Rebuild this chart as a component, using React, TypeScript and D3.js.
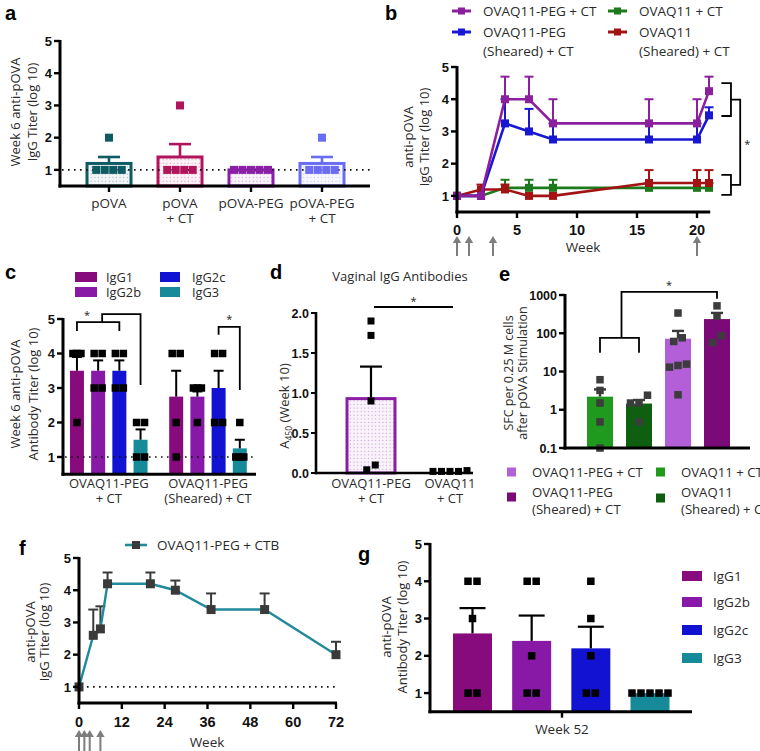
import React from 'react';
import * as d3 from 'd3';

const SANS = "'Open Sans', 'Noto Sans', sans-serif";
const TICKF = "'Liberation Sans', Arial, sans-serif";
const TXT = '#2a2a2a';

// ---------------- Panel a ----------------
const aCategories = ['pOVA', 'pOVA|+ CT', 'pOVA-PEG', 'pOVA-PEG|+ CT'];
const aMeans = [1.2, 1.4, 1.0, 1.2];
const aErrTop = [1.4, 1.8, 1.0, 1.4];
const aPoints = [[2, 1, 1, 1, 1], [3, 1, 1, 1, 1], [1, 1, 1, 1, 1], [2, 1, 1, 1, 1]];
const aColors = ['#0f5b63', '#b2145c', '#8a1fa6', '#6a6cf2'];
const titerTicks = [1, 2, 3, 4, 5];

// ---------------- Panel b ----------------
const bWeeks = [0, 2, 4, 6, 8, 16, 20, 21];
const bWeekTicks = [0, 5, 10, 15, 20];
const bArrowWeeks = [0, 1, 3, 20];
const bPegCT = [1, 1, 4, 4, 3.25, 3.25, 3.25, 4.25];
const bPegCTErr = [1, 1, 4.7, 4.7, 4.0, 4.0, 4.0, 4.7];
const bPegShearCT = [1, 1, 3.25, 3.0, 2.75, 2.75, 2.75, 3.5];
const bPegShearCTErr = [1, 1, 4.0, 3.7, 3.25, 3.25, 3.25, 3.75];
const bCT = [1, 1, 1.25, 1.25, 1.25, 1.25, 1.25, 1.25];
const bCTErr = [1, 1, 1.5, 1.5, 1.5, 1.4, 1.4, 1.4];
const bShearCT = [1, 1.2, 1.2, 1.0, 1.0, 1.4, 1.4, 1.4];
const bShearCTErr = [1, 1.35, 1.35, 1.0, 1.0, 1.8, 1.8, 1.8];
const bNames = ['OVAQ11-PEG + CT', 'OVAQ11-PEG|(Sheared) + CT', 'OVAQ11 + CT', 'OVAQ11|(Sheared) + CT'];
const bColors = ['#8c1f9e', '#1818d4', '#1c7a1c', '#a31313'];

// ---------------- Panel c ----------------
const cGroups = ['OVAQ11-PEG|+ CT', 'OVAQ11-PEG|(Sheared) + CT'];
const igClasses = ['IgG1', 'IgG2b', 'IgG2c', 'IgG3'];
const igColors = ['#870b7c', '#8818a6', '#1212d2', '#178a9a'];
const cMeansPeg = [3.5, 3.5, 3.5, 1.5];
const cErrPeg = [3.9, 3.8, 3.8, 1.8];
const cPtsPeg = [[4, 4, 4, 2], [4, 4, 3, 3], [4, 4, 3, 3], [2, 2, 1, 1]];
const cMeansShear = [2.75, 2.75, 3.0, 1.25];
const cErrShear = [3.5, 2.9, 3.5, 1.5];
const cPtsShear = [[4, 4, 2, 1], [3, 3, 3, 2], [4, 4, 2, 2], [2, 1, 1, 1]];

// ---------------- Panel d ----------------
const dCategories = ['OVAQ11-PEG|+ CT', 'OVAQ11|+ CT'];
const dMeans = [0.93, 0.02];
const dErrTop = [1.33, 0.02];
const dPoints = [[1.9, 1.72, 0.9, 0.1, 0.04], [0.03, 0.02, 0.02, 0.02, 0.02]];
const dTicks = [0, 0.5, 1.0, 1.5, 2.0];

// ---------------- Panel e ----------------
const eGroups = ['OVAQ11 + CT', 'OVAQ11 (Sheared) + CT', 'OVAQ11-PEG + CT', 'OVAQ11-PEG (Sheared) + CT'];
const eColors = ['#1f9a1f', '#0f5f10', '#b25fd8', '#7a0a78'];
const eMeans = [2.2, 1.45, 72, 235];
const eErrTop = [3.4, 1.8, 115, 340];
const ePoints = [[6.1, 3.2, 1.5, 0.48, 0.1], [2.4, 1.5, 1.5, 0.48], [338, 76, 61, 15.6, 14.4, 13, 2.46], [520, 280, 86, 57]];
const eTicks = [0.1, 1, 10, 100, 1000];

// ---------------- Panel f ----------------
const fWeeks = [0, 4, 6, 8, 20, 27, 37, 52, 72];
const fMeans = [1, 2.6, 2.8, 4.2, 4.2, 4.0, 3.4, 3.4, 2.0];
const fErrTop = [1, 3.4, 3.5, 4.55, 4.55, 4.3, 3.9, 3.9, 2.4];
const fWeekTicks = [0, 12, 24, 36, 48, 60, 72];
const fArrowWeeks = [0, 1.5, 3, 6];

// ---------------- Panel g ----------------
const gMeans = [2.6, 2.4, 2.2, 1.0];
const gErrTop = [3.28, 3.08, 2.78, 1.0];
const gPoints = [[4, 4, 3, 1, 1], [4, 4, 2, 1, 1], [4, 3, 2, 1, 1], [1, 1, 1, 1, 1]];

// ---------- helpers ----------
type Sc = (v: number) => number;

function spread(vals: number[], y: Sc, spacing: number, maxW: number, thresh = 9) {
  const items = vals.map(v => ({ v, y: y(v) })).sort((a, b) => a.y - b.y);
  const clusters: { v: number; y: number }[][] = [];
  for (const it of items) {
    const last = clusters[clusters.length - 1];
    if (last && Math.abs(it.y - last[last.length - 1].y) < thresh) last.push(it);
    else clusters.push([it]);
  }
  const out: { v: number; y: number; dx: number }[] = [];
  for (const c of clusters) {
    c.sort((a, b) => b.y - a.y);
    const n = c.length;
    const s = n > 1 ? Math.min(spacing, maxW / (n - 1)) : 0;
    c.forEach((it, i) => out.push({ v: it.v, y: it.y, dx: (i - (n - 1) / 2) * s }));
  }
  return out;
}

function Sq({ x, y, s, fill }: { x: number; y: number; s: number; fill: string }) {
  return <rect x={x - s / 2} y={y - s / 2} width={s} height={s} fill={fill} />;
}

function ErrBar({ x, y0, y1, w, color, sw = 2.2 }: any) {
  if (Math.abs(y0 - y1) < 0.5) return null;
  return (
    <g stroke={color} strokeWidth={sw}>
      <line x1={x} x2={x} y1={y0} y2={y1} />
      <line x1={x - w / 2} x2={x + w / 2} y1={y1} y2={y1} />
    </g>
  );
}

function YAxis({ scale, x, ticks, fmt, fs = 13, len = 6, sw = 3 }: any) {
  const [r0, r1] = scale.range();
  return (
    <g>
      <line x1={x} x2={x} y1={r1 - 1} y2={r0 + sw / 2} stroke="#000" strokeWidth={sw} />
      {ticks.map((t: number) => (
        <g key={t}>
          <line x1={x - len} x2={x} y1={scale(t)} y2={scale(t)} stroke="#000" strokeWidth={sw - 0.6} />
          <text x={x - len - 2} y={scale(t)} dy="0.36em" textAnchor="end" fontFamily={TICKF} fontWeight="bold" fontSize={fs} fill="#111">
            {fmt ? fmt(t) : t}
          </text>
        </g>
      ))}
    </g>
  );
}

function HLine({ x1, x2, y, sw = 3 }: any) {
  return <line x1={x1} x2={x2} y1={y} y2={y} stroke="#000" strokeWidth={sw} />;
}

function Dotted({ x1, x2, y }: any) {
  return <line x1={x1} x2={x2} y1={y} y2={y} stroke="#111" strokeWidth={1.6} strokeDasharray="1.6 4.4" />;
}

function VTitle({ x, y, lines, fs = 13, gap = 17 }: any) {
  return (
    <g>
      {lines.map((l: any, i: number) => (
        <text key={i} transform={`translate(${x + i * gap},${y}) rotate(-90)`} textAnchor="middle" fontFamily={SANS} fontSize={fs} fill={TXT}>
          {l}
        </text>
      ))}
    </g>
  );
}

function CatLabel({ x, y, label, fs = 13, gap = 15 }: any) {
  const parts = label.split('|');
  return (
    <text textAnchor="middle" fontFamily={SANS} fontSize={fs} fill={TXT}>
      {parts.map((p: string, i: number) => (
        <tspan key={i} x={x} y={y + i * gap}>{p}</tspan>
      ))}
    </text>
  );
}

function PLabel({ x, y, t }: any) {
  return <text x={x} y={y} fontFamily={TICKF} fontWeight="bold" fontSize={20} fill="#000">{t}</text>;
}

function Arrow({ x, yb, yt }: any) {
  return (
    <g fill="#7d7d7d" stroke="#7d7d7d">
      <line x1={x} x2={x} y1={yb} y2={yt + 6} strokeWidth={2} />
      <path d={`M${x - 4.2},${yt + 7} L${x},${yt} L${x + 4.2},${yt + 7}Z`} stroke="none" />
    </g>
  );
}

// ---------- Panel a ----------
function PanelA() {
  const y = d3.scaleLinear().domain([0.5, 5]).range([186, 41]);
  const x = d3.scalePoint<string>().domain(aCategories).range([109, 322]);
  const bw = 44;
  return (
    <g>
      <PLabel x={5} y={20} t="a" />
      {aCategories.map((c, i) => {
        const cx = x(c)!;
        const top = y(aMeans[i]);
        return (
          <g key={c}>
            <rect x={cx - bw / 2} y={top} width={bw} height={y(0.5) - top} fill={`url(#dots${i})`} stroke={aColors[i]} strokeWidth={3} />
            <ErrBar x={cx} y0={top} y1={y(aErrTop[i])} w={22} color={aColors[i]} sw={2.6} />
          </g>
        );
      })}
      <Dotted x1={62} x2={370} y={y(1)} />
      {aCategories.map((c, i) =>
        spread(aPoints[i], y, 8.5, 34).map((p, j) => <Sq key={c + j} x={x(c)! + p.dx} y={p.y} s={8} fill={aColors[i]} />)
      )}
      <YAxis scale={y} x={60} ticks={titerTicks} />
      <HLine x1={58.5} x2={370} y={y(0.5)} />
      {aCategories.map(c => (
        <line key={c} x1={x(c)} x2={x(c)} y1={y(0.5)} y2={y(0.5) + 6} stroke="#000" strokeWidth={2.4} />
      ))}
      {aCategories.map(c => <CatLabel key={c} x={x(c)} y={208} label={c} fs={13.5} />)}
      <VTitle x={20} y={112} lines={['Week 6 anti-pOVA', 'IgG Titer (log 10)']} />
    </g>
  );
}

// ---------- Panel b ----------
function PanelB() {
  const y = d3.scaleLinear().domain([0.5, 5]).range([212, 67]);
  const x = d3.scaleLinear().domain([0, 21]).range([457, 709]);
  const series = [
    { m: bCT, e: bCTErr, c: bColors[2] },
    { m: bShearCT, e: bShearCTErr, c: bColors[3] },
    { m: bPegShearCT, e: bPegShearCTErr, c: bColors[1] },
    { m: bPegCT, e: bPegCTErr, c: bColors[0] },
  ];
  const line = d3.line<number>().x((_, i) => x(bWeeks[i])).y(d => y(d));
  const legendPos = [
    { lx: 452, ty: 11 },
    { lx: 452, ty: 32 },
    { lx: 608, ty: 11 },
    { lx: 608, ty: 32 },
  ];
  const bx = 22.83;
  const tick = 0.8;
  const outer = 23.6;
  const topB = [4.5, 3.48];
  const botB = [1.65, 1.03];
  const mid = (a: number[]) => (y(a[0]) + y(a[1])) / 2;
  return (
    <g>
      <PLabel x={385} y={20} t="b" />
      {bNames.map((n, i) => {
        const p = legendPos[i];
        const parts = n.split('|');
        return (
          <g key={n}>
            <line x1={p.lx} x2={p.lx + 19} y1={p.ty} y2={p.ty} stroke={bColors[i]} strokeWidth={3} />
            <Sq x={p.lx + 9.5} y={p.ty} s={7} fill={bColors[i]} />
            <text fontFamily={SANS} fontSize={13.5} fill={TXT}>
              {parts.map((t, k) => (
                <tspan key={k} x={p.lx + 31} y={p.ty + 5 + k * 19}>{t}</tspan>
              ))}
            </text>
          </g>
        );
      })}
      {series.map((s, si) => (
        <g key={si}>
          {s.m.map((v, i) => (
            <ErrBar key={i} x={x(bWeeks[i])} y0={y(v)} y1={y(s.e[i])} w={9} color={s.c} sw={2} />
          ))}
          <path d={line(s.m)!} fill="none" stroke={s.c} strokeWidth={2.6} />
          {s.m.map((v, i) => <Sq key={i} x={x(bWeeks[i])} y={y(v)} s={8} fill={s.c} />)}
        </g>
      ))}
      <YAxis scale={y} x={457} ticks={titerTicks} />
      <HLine x1={455.5} x2={x(21.1)} y={y(0.5)} />
      {bWeekTicks.map(w => (
        <g key={w}>
          <line x1={x(w)} x2={x(w)} y1={y(0.5)} y2={y(0.5) + 6} stroke="#000" strokeWidth={2.4} />
          <text x={x(w)} y={235} textAnchor="middle" fontFamily={TICKF} fontWeight="bold" fontSize={14.5} fill="#111">{w}</text>
        </g>
      ))}
      <text x={583} y={252} textAnchor="middle" fontFamily={SANS} fontSize={13.5} fill={TXT}>Week</text>
      {bArrowWeeks.map(w => <Arrow key={w} x={x(w)} yb={256} yt={236} />)}
      <VTitle x={413} y={137} lines={['anti-pOVA', 'IgG Titer (log 10)']} gap={16} />
      <g stroke="#000" strokeWidth={1.8} fill="none">
        <path d={`M${x(bx - tick)},${y(topB[0])} H${x(bx)} V${y(topB[1])} H${x(bx - tick)}`} />
        <path d={`M${x(bx - tick)},${y(botB[0])} H${x(bx)} V${y(botB[1])} H${x(bx - tick)}`} />
        <path d={`M${x(bx)},${mid(topB)} H${x(outer)} V${mid(botB)} H${x(bx)}`} />
      </g>
      <text x={x(outer) + 7} y={(mid(topB) + mid(botB)) / 2 + 6} textAnchor="middle" fontFamily={SANS} fontSize={11} fill="#222">*</text>
    </g>
  );
}

// ---------- Panel c ----------
function PanelC() {
  const y = d3.scaleLinear().domain([0.5, 5]).range([474.25, 319]);
  const x0 = d3.scalePoint<string>().domain(cGroups).range([108.75, 208]);
  const x1 = d3.scalePoint<string>().domain(igClasses).range([-31.8, 31.8]);
  const bw = 14;
  const data = [
    { m: cMeansPeg, e: cErrPeg, p: cPtsPeg },
    { m: cMeansShear, e: cErrShear, p: cPtsShear },
  ];
  const cx = (g: number, k: number) => x0(cGroups[g])! + x1(igClasses[k])!;
  return (
    <g>
      <PLabel x={5} y={279} t="c" />
      {igClasses.map((n, i) => {
        const col = i < 2 ? 0 : 1;
        const row = i % 2;
        const sx = col === 0 ? 75 : 160;
        const sy = 272 + row * 15;
        return (
          <g key={n}>
            <rect x={sx} y={sy} width={col === 0 ? 22 : 20} height={10} fill={igColors[i]} />
            <text x={col === 0 ? 106 : 192} y={sy + 9.5} fontFamily={SANS} fontSize={12.8} fill={TXT}>{n}</text>
          </g>
        );
      })}
      {data.map((d, g) =>
        igClasses.map((k, i) => {
          const c = cx(g, i);
          const top = y(d.m[i]);
          return (
            <g key={g + k}>
              <rect x={c - bw / 2} y={top} width={bw} height={y(0.5) - top} fill={igColors[i]} />
              <ErrBar x={c} y0={top} y1={y(d.e[i])} w={10} color="#000" sw={2} />
            </g>
          );
        })
      )}
      <Dotted x1={65} x2={256} y={y(1)} />
      {data.map((d, g) =>
        igClasses.map((k, i) =>
          spread(d.p[i], y, 8, 8).map((p, j) => <Sq key={g + k + j} x={cx(g, i) + p.dx} y={p.y} s={7.5} fill="#000" />)
        )
      )}
      <YAxis scale={y} x={63} ticks={titerTicks} />
      <HLine x1={61.5} x2={256} y={y(0.5)} />
      {cGroups.map(gname => <CatLabel key={gname} x={x0(gname)} y={488} label={gname} />)}
      <VTitle x={20} y={394} lines={['Week 6 anti-pOVA', 'Antibody Titer (log 10)']} gap={18} />
      <g stroke="#000" strokeWidth={1.8} fill="none">
        <path d={`M${cx(0, 0)},${y(4.65)} V${y(4.91)} H${cx(0, 2)} V${y(4.65)}`} />
        <path d={`M${(cx(0, 0) + cx(0, 2)) / 2 + 4},${y(4.91)} V${y(5.14)} H${cx(0, 3)} V${y(3.09)}`} />
        <path d={`M${cx(1, 2)},${y(4.54)} V${y(4.77)} H${cx(1, 3)} V${y(2.94)}`} />
      </g>
      <text x={87} y={319} textAnchor="middle" fontFamily={SANS} fontSize={11} fill="#222">*</text>
      <text x={(cx(1, 2) + cx(1, 3)) / 2} y={323} textAnchor="middle" fontFamily={SANS} fontSize={11} fill="#222">*</text>
    </g>
  );
}

// ---------- Panel d ----------
function PanelD() {
  const y = d3.scaleLinear().domain([0, 2]).range([473, 313]);
  const x = d3.scalePoint<string>().domain(dCategories).range([371, 450]);
  const bw = 48;
  const fmt = d3.format('.1f');
  return (
    <g>
      <PLabel x={270} y={279} t="d" />
      <text x={400} y={281} textAnchor="middle" fontFamily={SANS} fontSize={13} fill={TXT}>Vaginal IgG Antibodies</text>
      {dCategories.map((c, i) => {
        const cx = x(c)!;
        const top = y(dMeans[i]);
        return (
          <g key={c}>
            {i === 0 && <rect x={cx - bw / 2} y={top} width={bw} height={y(0) - top} fill="url(#dots2)" stroke="#8a1fa6" strokeWidth={3} />}
            <ErrBar x={cx} y0={top} y1={y(dErrTop[i])} w={22} color="#000" sw={2.2} />
          </g>
        );
      })}
      {dCategories.map((c, i) =>
        spread(dPoints[i], y, 8.5, 34, 8).map((p, j) => <Sq key={c + j} x={x(c)! + p.dx} y={p.y} s={7} fill="#000" />)
      )}
      <YAxis scale={y} x={316} ticks={dTicks} fmt={fmt} sw={2.6} fs={12.5} len={5} />
      <HLine x1={315} x2={473} y={y(0)} sw={2.6} />
      {dCategories.map(c => <CatLabel key={c} x={x(c)} y={488} label={c} />)}
      <text transform="translate(289,406) rotate(-90)" textAnchor="middle" fontFamily={SANS} fontSize={13} fill={TXT}>
        A<tspan fontSize={8.5} dy={3}>450</tspan><tspan dy={-3}> (Week 10)</tspan>
      </text>
      <line x1={x(dCategories[0])! + 3} x2={x(dCategories[1])! + 3} y1={307} y2={307} stroke="#000" strokeWidth={1.8} />
      <text x={(x(dCategories[0])! + x(dCategories[1])!) / 2 + 3} y={305} textAnchor="middle" fontFamily={SANS} fontSize={11} fill="#222">*</text>
    </g>
  );
}

// ---------- Panel e ----------
function PanelE() {
  const y = d3.scaleLog().domain([0.1, 1000]).range([448, 295]);
  const x = d3.scalePoint<string>().domain(eGroups).range([600, 717]);
  const bw = 26;
  const fmt = (v: number) => (v < 1 ? '0.1' : String(v));
  const cx = (i: number) => x(eGroups[i])!;
  const legend = [
    { i: 2, sx: 507, sy: 472, lines: ['OVAQ11-PEG + CT'], ty: 477 },
    { i: 3, sx: 507, sy: 497, lines: ['OVAQ11-PEG', '(Sheared) + CT'], ty: 497 },
    { i: 0, sx: 656, sy: 472, lines: ['OVAQ11 + CT'], ty: 477 },
    { i: 1, sx: 656, sy: 498, lines: ['OVAQ11', '(Sheared) + CT'], ty: 497 },
  ];
  return (
    <g>
      <PLabel x={499} y={281} t="e" />
      {eGroups.map((g, i) => {
        const top = y(eMeans[i]);
        return (
          <g key={g}>
            <rect x={cx(i) - bw / 2} y={top} width={bw} height={y(0.1) - top} fill={eColors[i]} />
            <ErrBar x={cx(i)} y0={top} y1={y(eErrTop[i])} w={12} color="#3a3a3a" sw={2.4} />
          </g>
        );
      })}
      {eGroups.map((g, i) =>
        spread(ePoints[i], y, 8.5, 17, 9).map((p, j) => <Sq key={g + j} x={cx(i) + p.dx} y={p.y} s={7.5} fill="#3c3c3c" />)
      )}
      <YAxis scale={y} x={565} ticks={eTicks} fmt={fmt} fs={12.5} />
      <HLine x1={563.5} x2={750} y={y(0.1)} />
      <VTitle x={513} y={373} lines={['SFC per 0.25 M cells', 'after pOVA Stimulation']} fs={12.5} gap={14} />
      <g stroke="#000" strokeWidth={1.8} fill="none">
        <path d={`M${cx(0)},${y(31)} V${y(76)} H${cx(1)} V${y(31)}`} />
        <path d={`M${(cx(0) + cx(1)) / 2 + 2},${y(76)} V${y(1200)} H${cx(3)} V${y(800)}`} />
      </g>
      <text x={669} y={289} textAnchor="middle" fontFamily={SANS} fontSize={11} fill="#222">*</text>
      {legend.map(l => (
        <g key={l.i}>
          <rect x={l.sx} y={l.sy - 4.5} width={9} height={9} fill={eColors[l.i]} />
          <text fontFamily={SANS} fontSize={13.2} fill={TXT}>
            {l.lines.map((t, k) => (
              <tspan key={k} x={l.sx + 25} y={l.ty + k * 17}>{t}</tspan>
            ))}
          </text>
        </g>
      ))}
    </g>
  );
}

// ---------- Panel f ----------
function PanelF() {
  const y = d3.scaleLinear().domain([0.5, 5]).range([703, 558]);
  const x = d3.scaleLinear().domain([0, 72]).range([79, 336]);
  const line = d3.line<number>().x((_, i) => x(fWeeks[i])).y(d => y(d));
  const teal = '#20899a';
  const mk = '#3a3a3a';
  return (
    <g>
      <PLabel x={19} y={555} t="f" />
      <line x1={125} x2={147} y1={545} y2={545} stroke={teal} strokeWidth={2.6} />
      <Sq x={136} y={545} s={8} fill={mk} />
      <text x={157} y={550} fontFamily={SANS} fontSize={13.5} fill={TXT}>OVAQ11-PEG + CTB</text>
      <Dotted x1={81} x2={336} y={y(1)} />
      {fMeans.map((v, i) => <ErrBar key={i} x={x(fWeeks[i])} y0={y(v)} y1={y(fErrTop[i])} w={10} color={mk} sw={2} />)}
      <path d={line(fMeans)!} fill="none" stroke={teal} strokeWidth={2.4} />
      {fMeans.map((v, i) => <Sq key={i} x={x(fWeeks[i])} y={y(v)} s={9} fill={mk} />)}
      <YAxis scale={y} x={79} ticks={titerTicks} />
      <HLine x1={77.5} x2={337} y={y(0.5)} />
      {fWeekTicks.map(w => (
        <g key={w}>
          <line x1={x(w)} x2={x(w)} y1={y(0.5)} y2={y(0.5) + 6} stroke="#000" strokeWidth={2.4} />
          <text x={x(w)} y={727} textAnchor="middle" fontFamily={TICKF} fontWeight="bold" fontSize={14.5} fill="#111">{w}</text>
        </g>
      ))}
      <text x={207} y={747} textAnchor="middle" fontFamily={SANS} fontSize={13.5} fill={TXT}>Week</text>
      {fArrowWeeks.map(w => <Arrow key={w} x={x(w)} yb={752} yt={730} />)}
      <VTitle x={35} y={632} lines={['anti-pOVA', 'IgG Titer (log 10)']} gap={14} />
    </g>
  );
}

// ---------- Panel g ----------
function PanelG() {
  const y = d3.scaleLinear().domain([0.5, 5]).range([711.7, 544]);
  const x = d3.scalePoint<string>().domain(igClasses).range([472.5, 650]);
  const bw = 39;
  return (
    <g>
      <PLabel x={358} y={561} t="g" />
      {igClasses.map((k, i) => {
        const cx = x(k)!;
        const top = y(gMeans[i]);
        return (
          <g key={k}>
            <rect x={cx - bw / 2} y={top} width={bw} height={y(0.5) - top} fill={igColors[i]} />
            <ErrBar x={cx} y0={top} y1={y(gErrTop[i])} w={26} color="#000" sw={2.2} />
          </g>
        );
      })}
      {igClasses.map((k, i) =>
        spread(gPoints[i], y, 9, 36).map((p, j) => <Sq key={k + j} x={x(k)! + p.dx} y={p.y} s={7.5} fill="#000" />)
      )}
      <YAxis scale={y} x={430} ticks={titerTicks} />
      <HLine x1={428.5} x2={692} y={y(0.5)} />
      <line x1={562} x2={562} y1={y(0.5)} y2={y(0.5) + 6} stroke="#000" strokeWidth={2.4} />
      <text x={562} y={734} textAnchor="middle" fontFamily={SANS} fontSize={13.5} fill={TXT}>Week 52</text>
      <VTitle x={391} y={627} lines={['anti-pOVA', 'Antibody Titer (log 10)']} gap={16} />
      {igClasses.map((k, i) => {
        const cy = [576, 602, 630, 658][i];
        return (
          <g key={k}>
            <rect x={682} y={cy - 5} width={20} height={10} fill={igColors[i]} />
            <text x={713} y={cy + 5} fontFamily={SANS} fontSize={13.5} fill={TXT}>{k}</text>
          </g>
        );
      })}
    </g>
  );
}

export default function App() {
  const patternColors = aColors;
  return (
    <svg width={760} height={751} style={{ position: 'absolute', left: 0, top: 0, background: '#fff' }}>
      <defs>
        {patternColors.map((c, i) => (
          <pattern key={i} id={`dots${i}`} width={3.6} height={3.6} patternUnits="userSpaceOnUse">
            <rect width={3.6} height={3.6} fill="#fff" />
            <rect width={3.6} height={3.6} fill={c} opacity={0.06} />
            <circle cx={1.2} cy={1.2} r={0.55} fill={c} opacity={0.55} />
          </pattern>
        ))}
      </defs>
      <rect width={760} height={751} fill="#fff" />
      <PanelA />
      <PanelB />
      <PanelC />
      <PanelD />
      <PanelE />
      <PanelF />
      <PanelG />
    </svg>
  );
}
